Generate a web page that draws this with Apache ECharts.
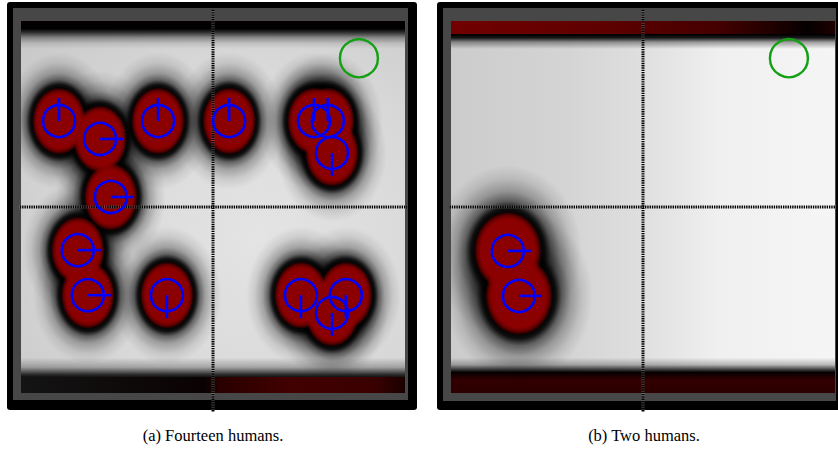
<!DOCTYPE html>
<html><head><meta charset="utf-8">
<script src="https://cdn.jsdelivr.net/npm/echarts@6/dist/echarts.min.js"></script>
<style>html,body{margin:0;padding:0;background:#fff}#c{width:838px;height:451px}</style>
</head><body><div id="c"></div>
<script>
// ---- data (map units, crosshair at origin) ----
const humansA_x = [-4.01, -2.94, -1.43, 0.42, 2.63, 2.99, 3.10, -2.66, -3.52, -3.26, -1.20, 2.29, 3.46, 3.10];
const humansA_y = [2.31, 1.83, 2.31, 2.31, 2.31, 2.31, 1.45, 0.27, -1.16, -2.37, -2.37, -2.37, -2.37, -2.85];
const headingA  = [90, 0, 90, 90, 90, 90, -90, 0, 0, 0, -90, -90, -90, -90];
const humansB_x = [-3.52, -3.23];
const humansB_y = [-1.18, -2.39];
const headingB  = [0, 0];
const goal_x = [3.80];
const goal_y = [4.0];
// wall bands [yFrom, yTo, kind]
const wallsA = [[4.25, 5.0, 0], [-4.62, -4.05, 1], [-5.0, -4.57, 2]];
const wallsB = [[4.62, 5.0, 3], [4.25, 4.65, 4], [-4.47, -4.05, 1], [-5.0, -4.43, 5]];
const captions = ['(a) Fourteen humans.', '(b) Two humans.'];
const axisMin = -5, axisMax = 5;

// ---- styles ----
const lin = (x, y, x2, y2, stops) => ({type:'linear', x, y, x2, y2, global:false,
  colorStops: stops.map(s => ({offset:s[0], color:s[1]}))});
const rad = (stops) => ({type:'radial', x:0.5, y:0.5, r:0.5, global:false,
  colorStops: stops.map(s => ({offset:s[0], color:s[1]}))});

const bgFill = [
  {type:'radial', x:0.62, y:0.58, r:0.8, global:false, colorStops:[
    {offset:0, color:'#e4e4e4'}, {offset:0.55, color:'#d9d9d9'}, {offset:1, color:'#c9c9c9'}]},
  lin(0, 0, 1, 0, [[0,'#cccccc'],[0.3,'#d4d4d4'],[0.5,'#dfdfdf'],[0.7,'#f0f0f0'],[1,'#f5f5f5']])
];
const wallFill = [
  lin(0,0,0,1, [[0,'#060000'],[0.28,'#000'],[0.42,'rgba(0,0,0,0.75)'],[0.6,'rgba(0,0,0,0.35)'],[0.8,'rgba(0,0,0,0.1)'],[1,'rgba(0,0,0,0)']]),
  lin(0,0,0,1, [[0,'rgba(0,0,0,0)'],[0.45,'rgba(0,0,0,0.25)'],[0.8,'rgba(0,0,0,0.8)'],[1,'#000']]),
  lin(0,0,1,0, [[0,'#141414'],[0.48,'#0a0202'],[0.52,'#2a0000'],[0.7,'#420000'],[0.92,'#3a0000'],[1,'#1a0000']]),
  lin(0,0,1,0, [[0,'#720000'],[0.4,'#5e0000'],[0.7,'#440000'],[0.85,'#1c0000'],[0.93,'#050000'],[1,'#200000']]),
  lin(0,0,0,1, [[0,'#000'],[0.25,'rgba(0,0,0,0.9)'],[0.55,'rgba(0,0,0,0.35)'],[1,'rgba(0,0,0,0)']]),
  lin(0,0,0,1, [[0,'#000'],[0.15,'#160000'],[0.4,'#320000'],[1,'#2c0000']])
];
const blobCfg = [
  {R:27, ky:1.25, ext:28, halo:[[0,1],[0.47,1],[0.53,0.92],[0.6,0.55],[0.7,0.28],[0.85,0.09],[1,0]]},
  {R:34, ky:1.16, ext:40, halo:[[0,1],[0.44,1],[0.5,0.92],[0.58,0.55],[0.7,0.28],[0.85,0.1],[1,0]]}
];
const coreStops = [[0,'#8c0000'],[0.8,'#8b0000'],[0.9,'rgba(139,0,0,0.7)'],[1,'rgba(139,0,0,0)']];

// ---- series builders ----
function bgSeries(g){
  return {type:'custom', xAxisIndex:g, yAxisIndex:g, z:1, silent:true, clip:true, data:[[0,0]],
    renderItem:(p, api) => {const cs = p.coordSys;
      return {type:'rect', shape:{x:cs.x, y:cs.y, width:cs.width, height:cs.height}, style:{fill:bgFill[g]}};}};
}
function wallSeries(g, walls){
  return {type:'custom', xAxisIndex:g, yAxisIndex:g, z:2, silent:true, clip:true,
    data: walls.map(w => [0, w[0], w[1], w[2]]),
    renderItem:(p, api) => {
      const a = api.coord([axisMin, api.value(2)]), b = api.coord([axisMax, api.value(1)]);
      return {type:'rect', shape:{x:a[0], y:a[1], width:b[0]-a[0], height:b[1]-a[1]},
        style:{fill:wallFill[api.value(3)]}};
    }};
}
function blobSeries(g, xs, ys, layer){
  const c = blobCfg[g];
  return {type:'custom', xAxisIndex:g, yAxisIndex:g, z: layer === 'halo' ? 3 : 4, silent:true, clip:true,
    data: xs.map((x, i) => [x, ys[i]]),
    renderItem:(p, api) => {
      const pt = api.coord([api.value(0), api.value(1)]);
      if (layer === 'halo') {
        return {type:'circle', x:pt[0], y:pt[1], scaleY:c.ky, shape:{cx:0, cy:0, r:c.R + c.ext},
          style:{fill: rad(c.halo.map(s => [s[0], 'rgba(0,0,0,' + s[1] + ')']))}};
      }
      return {type:'circle', x:pt[0], y:pt[1], scaleY:c.ky, shape:{cx:0, cy:0, r:c.R},
        style:{fill: rad(coreStops)}};
    }};
}
function crossSeries(g, data, under){
  return {type:'line', xAxisIndex:g, yAxisIndex:g, z: under ? 5 : 6, silent:true, clip:false,
    symbol:'none', data,
    lineStyle: under ? {color:'rgba(255,255,255,0.25)', width:3, type:'solid'}
                     : {color:'#000', width:3, type:[1.4, 0.9]}};
}
function humanSeries(g, xs, ys, hs){
  return {type:'custom', xAxisIndex:g, yAxisIndex:g, z:8, silent:true, clip:false,
    data: xs.map((x, i) => [x, ys[i], hs[i]]),
    renderItem:(p, api) => {
      const pt = api.coord([api.value(0), api.value(1)]);
      const a = api.value(2) * Math.PI / 180;
      return {type:'group', children:[
        {type:'circle', shape:{cx:pt[0], cy:pt[1], r:16}, style:{fill:'rgba(0,0,0,0)', stroke:'#0000ff', lineWidth:2.6}},
        {type:'line', shape:{x1:pt[0], y1:pt[1], x2:pt[0] + 23*Math.cos(a), y2:pt[1] - 23*Math.sin(a)},
          style:{stroke:'#0000ff', lineWidth:2.6}}
      ]};
    }};
}
function goalSeries(g){
  return {type:'custom', xAxisIndex:g, yAxisIndex:g, z:8, silent:true,
    data: goal_x.map((x, i) => [x, goal_y[i]]),
    renderItem:(p, api) => {
      const pt = api.coord([api.value(0), api.value(1)]);
      return {type:'circle', shape:{cx:pt[0], cy:pt[1], r:19}, style:{fill:'rgba(0,0,0,0)', stroke:'#14a014', lineWidth:2.4}};
    }};
}

const series = [];
[[humansA_x, humansA_y, headingA, wallsA], [humansB_x, humansB_y, headingB, wallsB]].forEach((d, g) => {
  series.push(bgSeries(g), wallSeries(g, d[3]),
    blobSeries(g, d[0], d[1], 'halo'), blobSeries(g, d[0], d[1], 'core'));
  const vLine = [[0, 5.3], [0, -5.5]];
  const hLine = g === 0 ? [[-5.21, 0], [5.31, 0]] : [[-5.1, 0], [5.2, 0]];
  series.push(crossSeries(g, vLine, true), crossSeries(g, vLine, false),
    crossSeries(g, hLine, true), crossSeries(g, hLine, false));
  series.push(goalSeries(g), humanSeries(g, d[0], d[1], d[2]));
});

const option = {
  animation:false,
  backgroundColor:'#ffffff',
  grid:[{left:21, top:21, width:384, height:372}, {left:451, top:21, width:384, height:372}],
  xAxis:[0,1].map(g => ({gridIndex:g, type:'value', min:axisMin, max:axisMax, show:false})),
  yAxis:[0,1].map(g => ({gridIndex:g, type:'value', min:axisMin, max:axisMax, show:false})),
  graphic:[
    {type:'rect', z:0, shape:{x:7, y:2, width:410, height:408, r:3}, style:{fill:'#000'}},
    {type:'rect', z:0, shape:{x:13, y:8, width:395, height:392}, style:{fill:'#474747'}},
    {type:'rect', z:0, shape:{x:437, y:2, width:410, height:408, r:3}, style:{fill:'#000'}},
    {type:'rect', z:0, shape:{x:443, y:8, width:393, height:393}, style:{fill:'#474747'}},
    {type:'text', x:213, y:435, style:{text:captions[0], fill:'#000', font:'16.5px "Liberation Serif"', textAlign:'center', textVerticalAlign:'middle'}},
    {type:'text', x:644, y:435, style:{text:captions[1], fill:'#000', font:'16.5px "Liberation Serif"', textAlign:'center', textVerticalAlign:'middle'}}
  ],
  series
};
const chart = echarts.init(document.getElementById('c'), null, {renderer:'svg'});
chart.setOption(option);
</script></body></html>
